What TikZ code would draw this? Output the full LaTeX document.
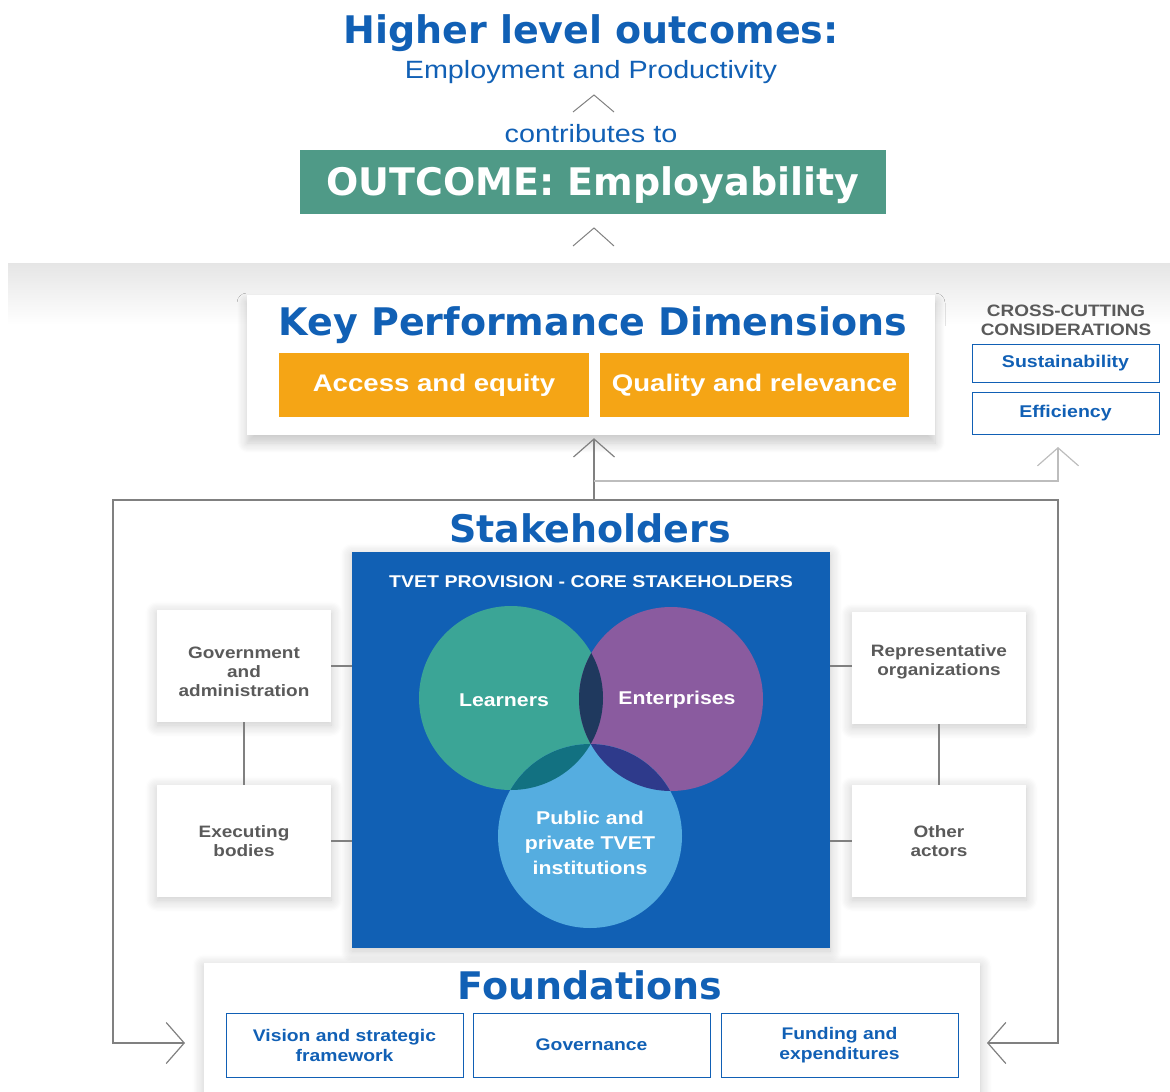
\documentclass[tikz,border=0pt]{standalone}
\usepackage{fontspec}
\setmainfont{Liberation Sans}[FakeStretch=1.15]
\newfontfamily\heavyfont{DejaVu Sans}
\usetikzlibrary{arrows.meta,shadows.blur}
\definecolor{tblue}{HTML}{1160B5}
\definecolor{boxblue}{HTML}{1160B4}
\definecolor{outgreen}{HTML}{4F9A87}
\definecolor{kpdorange}{HTML}{F5A515}
\definecolor{txtgray}{HTML}{5A5A5A}
\definecolor{linegray}{HTML}{808080}
\definecolor{lightgray}{HTML}{BDBDBD}
\definecolor{cLearn}{HTML}{3BA596}
\definecolor{cEnter}{HTML}{8A5B9F}
\definecolor{cPub}{HTML}{55ADE0}
\definecolor{cLE}{HTML}{1F395E}
\definecolor{cLP}{HTML}{127181}
\definecolor{cEP}{HTML}{2E3A8B}
\newcommand{\fsz}[2]{\fontsize{#1}{#2}\selectfont}
\begin{document}
\begin{tikzpicture}[x=1pt, y=-1pt,
    headStyle/.style={font=\heavyfont\bfseries\fsz{38}{40}, text=tblue, anchor=base},
    subStyle/.style={font=\fsz{25}{28}, text=tblue, anchor=base},
    shadowed/.style={blur shadow={shadow blur steps=10, shadow xshift=0pt, shadow yshift=-3pt, shadow blur radius=12pt, shadow blur extra rounding=0pt, shadow opacity=22}},
    dimStyle/.style={rectangle, fill=kpdorange, text=white, font=\bfseries\fsz{24}{26}, minimum width=310pt, minimum height=64pt},
    crossStyle/.style={rectangle, draw=tblue, line width=1pt, text=tblue, font=\bfseries\fsz{17}{19}, minimum width=187pt},
    sideStyle/.style={rectangle, fill=white, shadowed, text=txtgray, font=\bfseries\fsz{16.5}{19}, align=center, minimum width=174pt, minimum height=112pt},
    foundStyle/.style={rectangle, draw=tblue, line width=1pt, fill=white, text=tblue, font=\bfseries\fsz{16.8}{20}, align=center, minimum width=237pt, minimum height=64pt},
    circText/.style={text=white, font=\bfseries\fsz{18.5}{25}, align=center},
    link/.style={draw=linegray, line width=1.2pt},
    chev/.tip={Straight Barb[length=18pt, width=41pt]}]
    \useasboundingbox (0,0) rectangle (1170,1092);

    % top: outcomes
    \node[headStyle] (higher) at (591,43) {Higher level outcomes:};
    \node[subStyle] (employ) at (591,78) {Employment and Productivity};
    \draw[link, line width=1pt] (573,112) -- (594,95) -- (614,112);
    \node[subStyle] (contrib) at (591,142) {contributes to};
    \node[rectangle, fill=outgreen, text=white, font=\heavyfont\bfseries\fsz{38}{40}, text depth=2pt, minimum width=586pt, minimum height=64pt] (outcome) at (593,182) {OUTCOME: Employability};
    \draw[link, line width=1pt] (573,246) -- (594,228) -- (614,246);

    % grey band
    \shade[top color=black!10, bottom color=white] (8,263) rectangle (1170,325);

    % key performance dimensions
    \node[rectangle, fill=white, blur shadow={shadow blur steps=10, shadow xshift=0pt, shadow yshift=-8pt, shadow blur radius=10pt, shadow blur extra rounding=0pt, shadow opacity=22}, minimum width=688pt, minimum height=140pt] (kpd) at (591,365) {};
    \node[headStyle] (kpdTitle) at (593,335) {Key Performance Dimensions};
    \node[dimStyle] (access) at (434,385) {Access and equity};
    \node[dimStyle, minimum width=309pt] (quality) at (754.5,385) {Quality and relevance};

    % cross-cutting
    \node[text=txtgray, font=\bfseries\fsz{16.5}{19}, align=center] (ccTitle) at (1066,320) {CROSS-CUTTING\\CONSIDERATIONS};
    \node[crossStyle, minimum height=38pt] (sustain) at (1065.5,363) {Sustainability};
    \node[crossStyle, minimum height=42pt] (effic) at (1065.5,413) {Efficiency};

    % stakeholders
    \node[headStyle] (stkTitle) at (590,542) {Stakeholders};
    \node[rectangle, fill=boxblue, shadowed, minimum width=478pt, minimum height=396pt] (tvet) at (591,750) {};
    \node[text=white, font=\bfseries\fsz{17}{18}, anchor=base] (tvetTitle) at (591,587) {TVET PROVISION - CORE STAKEHOLDERS};

    \fill[cLearn] (511,698) circle (92pt);
    \fill[cEnter] (671,699) circle (92pt);
    \fill[cPub] (590,836) circle (92pt);
    \begin{scope}
        \clip (511,698) circle (92pt);
        \fill[cLE] (671,699) circle (92pt);
        \fill[cLP] (590,836) circle (92pt);
    \end{scope}
    \begin{scope}
        \clip (671,699) circle (92pt);
        \fill[cEP] (590,836) circle (92pt);
    \end{scope}
    \node[circText] (learners) at (504,700) {Learners};
    \node[circText] (enterp) at (677,700) {Enterprises};
    \node[circText] (public) at (590,843) {Public and\\private TVET\\institutions};

    \node[sideStyle] (gov) at (244,666) {Government\\and\\administration\\[-31pt]};
    \node[sideStyle] (exec) at (244,841) {Executing\\bodies};
    \node[sideStyle] (repr) at (939,668) {Representative\\organizations\\[-3pt]};
    \node[sideStyle] (other) at (939,841) {Other\\actors};

    \draw[link] (gov.east) -- (gov.east -| tvet.west);
    \draw[link] (exec.east) -- (exec.east -| tvet.west);
    \draw[link] (gov.south) -- (exec.north);
    \draw[link] (repr.west |- gov.east) -- (tvet.east |- gov.east);
    \draw[link] (other.west) -- (other.west -| tvet.east);
    \draw[link] (repr.south) -- (other.north);

    % foundations
    \node[rectangle, fill=white, shadowed, minimum width=776pt, minimum height=129pt] (found) at (592,1027.5) {};
    \node[headStyle] (foundTitle) at (590,999) {Foundations};
    \node[foundStyle] (vision) at (344.5,1045) {Vision and strategic\\framework};
    \node[foundStyle] (govern) at (591.5,1045) {Governance};
    \node[foundStyle] (funding) at (839.5,1045) {Funding and\\expenditures};

    % frame and arrows
    \coordinate (fork) at (594,500);
    \coordinate (split) at (594,481);
    \coordinate (ccIn) at (1058,447);
    \coordinate (inL) at (185,1043);
    \coordinate (inR) at (987,1043);
    \draw[link, -{chev}] (fork) -- ([yshift=-3pt]fork |- kpd.south);
    \draw[draw=lightgray, line width=1.2pt, -{chev}] (split) -| (ccIn);
    \draw[link, -{chev}] (fork) -| (113,1043) -- (inL);
    \draw[link, -{chev}] (fork) -| (1058,1043) -- (inR);
\end{tikzpicture}
\end{document}
